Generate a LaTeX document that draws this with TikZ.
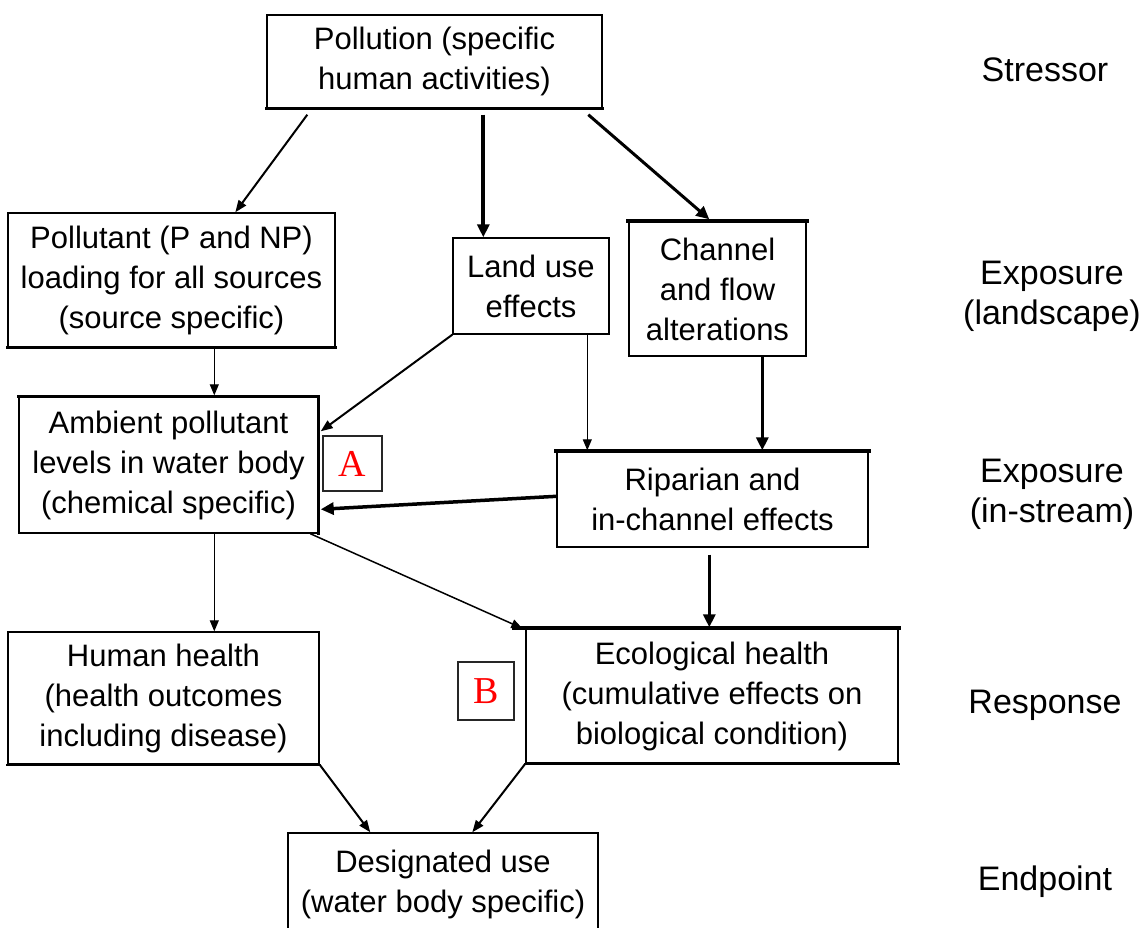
\documentclass[tikz,border=0pt]{standalone}
\usepackage{fontspec}
\setmainfont{Liberation Sans}
\newfontfamily\serifA{Liberation Serif}
\usetikzlibrary{arrows.meta,calc}
\begin{document}
\begin{tikzpicture}[x=0.5pt,y=-0.5pt,
  box/.style={draw, line width=0.7pt, align=center, inner sep=0pt, font=\fontsize{15.5}{20}\selectfont},
  letterbox/.style={draw=black!85, line width=0.8pt, inner sep=0pt, text=red, font=\serifA\fontsize{19}{20}\selectfont},
  lab/.style={align=center, font=\fontsize{17}{20}\selectfont},
  thinar/.style={line width=0.5pt, -{Triangle[length=5.5pt,width=4.5pt]}},
  medar/.style={line width=1pt, -{Triangle[length=6pt,width=4.5pt]}},
  thickar/.style={line width=1.75pt, -{Triangle[length=6.5pt,width=6pt]}},
  heavyside/.style={line width=1.75pt, line cap=rect}]
\clip (0,0) rectangle (1146,927);
\fill[white] (0,0) rectangle (1146,927);
% boxes
\node[box, minimum width=167.5pt, minimum height=46.5pt] (poll) at (434.5,61.5) {Pollution (specific\\human activities)};
\node[box, minimum width=163.5pt, minimum height=67pt] (pnp) at (171.5,280) {Pollutant (P and NP)\\loading for all sources\\(source specific)};
\node[box, minimum width=78pt, minimum height=48pt] (land) at (531,286) {Land use\\effects};
\node[box, minimum width=88.5pt, minimum height=67pt] (chan) at (717.5,289) {Channel\\and flow\\alterations};
\node[box, minimum width=149.5pt, minimum height=68pt] (amb) at (168.5,465) {Ambient pollutant\\levels in water body\\(chemical specific)};
\node[letterbox, minimum width=29.5pt, minimum height=27.5pt] (A) at (352.5,463.5) {A};
\node[box, minimum width=155.5pt, minimum height=47.5pt] (rip) at (712.5,499.5) {Riparian and\\in-channel effects};
\node[box, minimum width=155.5pt, minimum height=66pt] (hum) at (163.5,698) {Human health\\(health outcomes\\including disease)};
\node[letterbox, minimum width=28pt, minimum height=29pt] (B) at (486,691) {B};
\node[box, minimum width=186pt, minimum height=67pt] (eco) at (712,696) {Ecological health\\(cumulative effects on\\biological condition)};
\node[box, minimum width=155pt, minimum height=51pt] (des) at (443,884) {Designated use\\(water body specific)};
% heavy sides
\draw[heavyside] (poll.south west) -- (poll.south east);
\draw[heavyside] (pnp.south west) -- (pnp.south east);
\draw[heavyside, line width=2pt] (chan.north west) -- (chan.north east);
\draw[heavyside] (amb.north west) -- (amb.north east) -- (amb.south east);
\draw[heavyside, line width=2pt] (rip.north west) -- (rip.north east);
\draw[heavyside, line width=1pt] (hum.south west) -- (hum.south east);
\draw[heavyside, line width=2pt] ($(eco.north west)+(-11,0)$) -- (eco.north east);
\draw[heavyside, line width=1pt] (eco.south west) -- (eco.south east);
% level labels
\node[lab] (l1) at (1045,70) {Stressor};
\node[lab] (l2) at (1052,296) {Exposure\\(landscape)};
\node[lab] (l3) at (1052,494) {Exposure\\(in-stream)};
\node[lab] (l4) at (1045,705) {Response};
\node[lab] (l5) at (1045,882) {Endpoint};
% connectors
\draw[medar] ($(poll.south west)+(41,6)$) -- ($(pnp.north west)+(228,0)$);
\draw[thickar, line width=2pt] ($(poll.south west)+(217,6)$) -- ($(land.north west)+(31,0)$);
\draw[thickar, line width=1.5pt] ($(poll.south west)+(322,6)$) -- ($(chan.north west)+(81,-2)$);
\draw[thinar] ($(pnp.south west)+(207,1)$) -- ($(amb.north west)+(196,-1)$);
\draw[medar] (land.south west) -- ($(amb.north east)+(2,35)$);
\draw[thinar] ($(land.south west)+(135,0)$) -- ($(rip.north west)+(31,-1)$);
\draw[thickar] ($(chan.south west)+(134,0)$) -- ($(rip.north west)+(206,-1)$);
\draw[thickar] ($(rip.north west)+(0,45)$) -- ($(amb.north east)+(2,113)$);
\draw[thinar] ($(amb.south west)+(196,0)$) -- ($(hum.north west)+(207,0)$);
\draw[thinar, line width=0.75pt] ($(amb.south west)+(292,0)$) -- ($(eco.north west)+(-3,0)$);
\draw[thickar] ($(rip.south west)+(153,7)$) -- ($(eco.north west)+(184,-1)$);
\draw[medar] (hum.south east) -- ($(des.north west)+(83,0)$);
\draw[medar] (eco.south west) -- ($(des.north west)+(185,0)$);
\end{tikzpicture}
\end{document}
